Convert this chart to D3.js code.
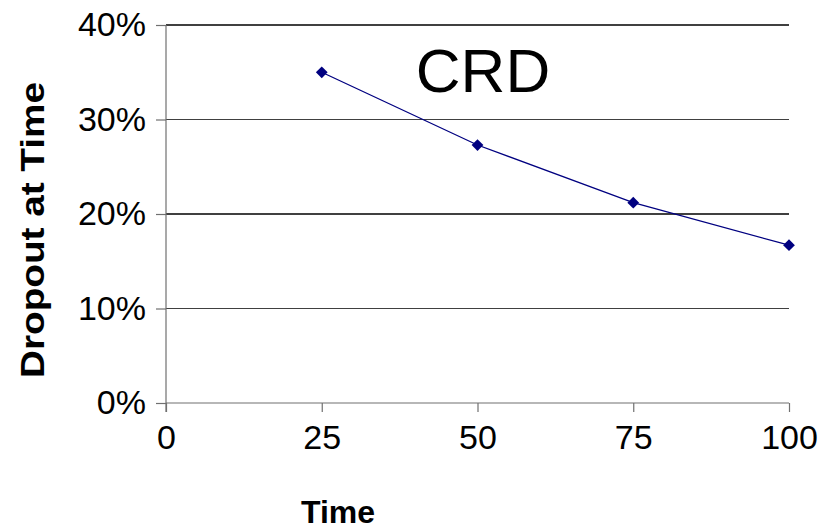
<!DOCTYPE html>
<html>
<head>
<meta charset="utf-8">
<script src="https://cdn.jsdelivr.net/npm/d3@7"></script>
<style>
  html, body { margin: 0; padding: 0; background: #fff; }
  svg { display: block; font-family: "Liberation Sans", Arial, sans-serif; }
</style>
</head>
<body>
<svg id="chart" width="829" height="529"></svg>
<script>
const times = [25, 50, 75, 100];
const dropout = [0.350, 0.273, 0.212, 0.167];
const xTicks = [0, 25, 50, 75, 100];
const yTicks = [0, 0.1, 0.2, 0.3, 0.4];
const chartTitle = "CRD";
const xTitle = "Time";
const yTitle = "Dropout at Time";

const svg = d3.select("#chart");
const x = d3.scaleLinear().domain([0, 100]).range([166, 789]);
const y = d3.scaleLinear().domain([0, 0.4]).range([403, 25]);

// gridlines
svg.append("g").selectAll("line").data(yTicks.filter(d => d > 0)).join("line")
  .attr("x1", x(0)).attr("x2", x(100))
  .attr("y1", d => y(d)).attr("y2", d => y(d))
  .attr("stroke", "#404040").attr("stroke-width", 1.2).attr("shape-rendering", "crispEdges");

// y axis
const yAxis = d3.axisLeft(y).tickValues(yTicks).tickFormat(d3.format(".0%")).tickSize(10).tickPadding(10);
const gy = svg.append("g").attr("transform", `translate(${x(0)},0)`).call(yAxis);
gy.select(".domain").attr("stroke", "#707070").attr("stroke-width", 1.2).attr("d", `M0,${y(0.4)}V${y(0)+9}`);
gy.selectAll(".tick line").attr("stroke", "#707070").attr("stroke-width", 1.2);
gy.selectAll(".tick text").attr("font-size", 34).attr("fill", "#000").attr("font-family", "Liberation Sans, Arial, sans-serif");

// x axis
const xAxis = d3.axisBottom(x).tickValues(xTicks).tickSize(9).tickPadding(13);
const gx = svg.append("g").attr("transform", `translate(0,${y(0)})`).call(xAxis);
gx.select(".domain").attr("stroke", "#707070").attr("stroke-width", 1.2).attr("d", `M${x(0)},0H${x(100)}`);
gx.selectAll(".tick line").attr("stroke", "#707070").attr("stroke-width", 1.2);
gx.selectAll(".tick text").attr("font-size", 34).attr("fill", "#000").attr("font-family", "Liberation Sans, Arial, sans-serif");

// line
const line = d3.line().x((d, i) => x(times[i])).y(d => y(d));
svg.append("path").datum(dropout).attr("d", line)
  .attr("fill", "none").attr("stroke", "#000080").attr("stroke-width", 1.3);

// markers
svg.append("g").selectAll("path").data(dropout).join("path")
  .attr("d", d3.symbol().type(d3.symbolDiamond2).size(88))
  .attr("transform", (d, i) => `translate(${x(times[i])},${y(d)})`)
  .attr("fill", "#000080");

// chart title
svg.append("text").attr("x", 483).attr("y", 92).attr("text-anchor", "middle")
  .attr("font-size", 62).attr("fill", "#000").text(chartTitle);

// x title
svg.append("text").attr("x", 338).attr("y", 523).attr("text-anchor", "middle")
  .attr("font-size", 32).attr("font-weight", "bold").attr("fill", "#000").text(xTitle);

// y title
svg.append("text").attr("transform", "translate(44,230) rotate(-90)").attr("text-anchor", "middle")
  .attr("font-size", 34).attr("font-weight", "bold").attr("fill", "#000")
  .attr("textLength", 296).attr("lengthAdjust", "spacingAndGlyphs").text(yTitle);
</script>
</body>
</html>
